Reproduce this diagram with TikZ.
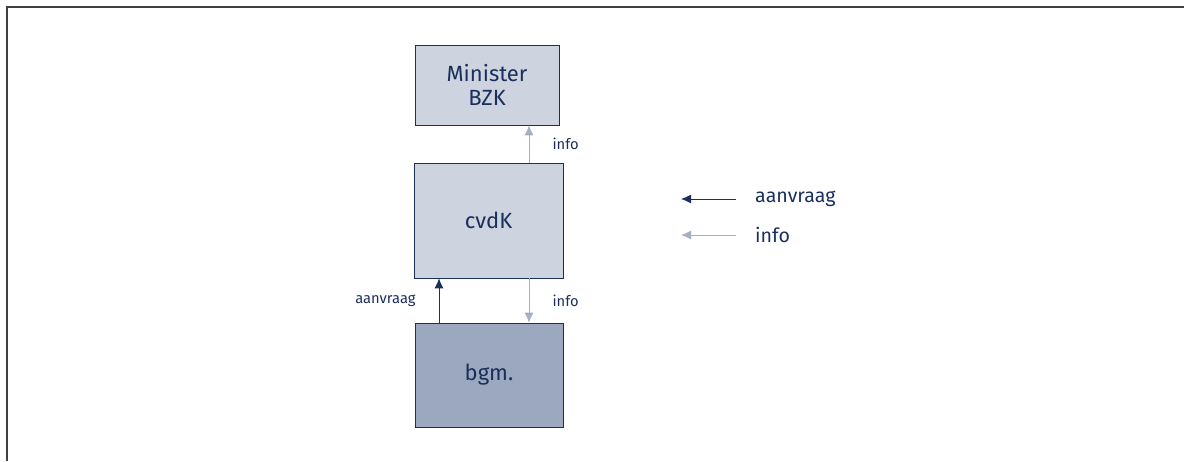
\documentclass[tikz,border=0pt]{standalone}
\usepackage{fontspec}
\setmainfont{Fira Sans}
\usetikzlibrary{arrows.meta,quotes}
\definecolor{navy}{HTML}{1B2F5C}
\definecolor{lichtblauw}{HTML}{CDD3DF}
\definecolor{grijsblauw}{HTML}{9CA8BF}
\definecolor{infokleur}{HTML}{A5B0C6}

\begin{document}
\begin{tikzpicture}[x=1pt, y=-1pt,
every edge/.style = {draw, line width=1pt},
every edge quotes/.append style = {inner sep=0pt, font=\fontsize{14.7}{17}\selectfont, text=navy},
      box/.style = {draw=navy, semithick, text=navy, align=center, inner sep=0pt,
                    font=\fontsize{22}{24}\selectfont},
     aanv/.style = {navy, -{Latex[length=10pt, width=9pt]}},
     info/.style = {infokleur, -{Latex[length=10pt, width=9pt]}},
   legend/.style = {anchor=west, inner sep=0pt, text=navy, font=\fontsize{19.6}{22}\selectfont}
                    ]
\useasboundingbox (0,0) rectangle (1184,461);
% kader
\draw[line width=2pt, black!75] (7,461) -- (7,7) -- (1184,7);

\node (minister) [box, fill=lichtblauw, minimum width=144pt, minimum height=80pt] at (487,85)  {Minister\\BZK};
\node (cvdk)     [box, fill=lichtblauw, minimum width=149pt, minimum height=115pt] at (488.5,220.5) {cvdK};
\node (bgm)      [box, fill=grijsblauw, minimum width=148pt, minimum height=104pt] at (489,375) {bgm.};

\coordinate (infox) at (529,0);
\coordinate (aanx)  at (439,0);

\draw   (cvdk.north -| infox) edge [info, "info" {anchor=west, xshift=23pt}]     (minister.south -| infox)
        (bgm.north -| aanx)   edge [aanv, "aanvraag" {anchor=east, xshift=-23pt}] (cvdk.south -| aanx)
        (cvdk.south -| infox) edge [info, "info" {anchor=west, xshift=23pt}]     (bgm.north -| infox);

% legenda
\node (lgaanv) [legend] at (755,199) {aanvraag};
\node (lginfo) [legend] at (755,235) {info};
\draw   ([xshift=-19pt]lgaanv.west) edge [aanv] ([xshift=-74pt]lgaanv.west)
        ([xshift=-19pt]lginfo.west) edge [info] ([xshift=-74pt]lginfo.west);
\end{tikzpicture}
\end{document}
